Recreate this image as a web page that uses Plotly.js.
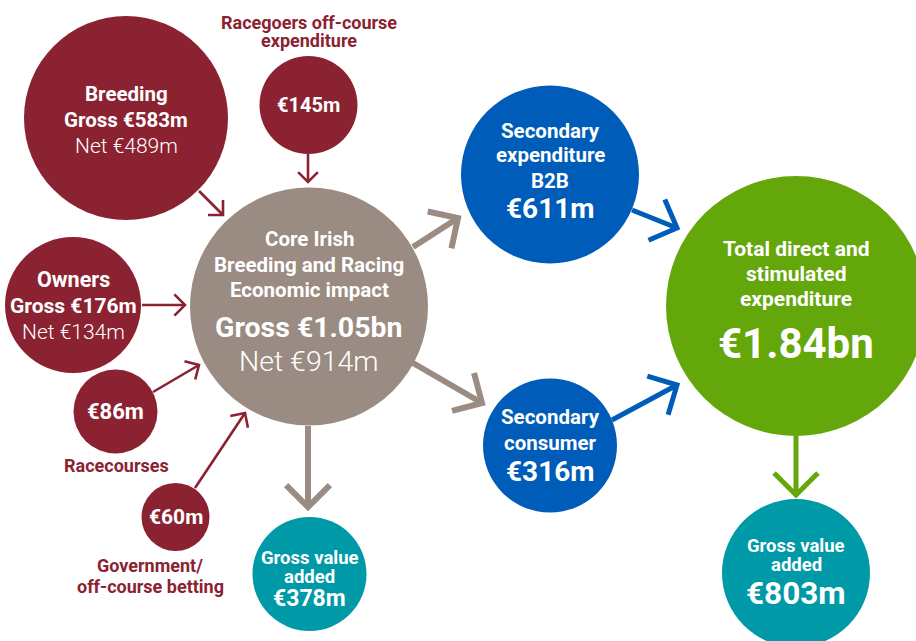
<!DOCTYPE html>
<html>
<head>
<meta charset="utf-8">
<script src="https://cdn.plot.ly/plotly-3.0.1.min.js"></script>
<style>html,body{margin:0;padding:0;background:#fff;}#chart{width:916px;height:641px;}</style>
</head>
<body>
<div id="chart"></div>
<script>
// ---- data ----
const nodeTitles = [
  ['Breeding'], [], ['Core Irish', 'Breeding and Racing', 'Economic impact'], ['Owners'], [], [],
  ['Gross value', 'added'], ['Secondary', 'expenditure', 'B2B'], ['Secondary', 'consumer'],
  ['Total direct and', 'stimulated', 'expenditure'], ['Gross value', 'added']
];
const grossLabels = ['Gross €583m', '€145m', 'Gross €1.05bn', 'Gross €176m', '€86m', '€60m', '€378m', '€611m', '€316m', '€1.84bn', '€803m'];
const netLabels = ['Net €489m', '', 'Net €914m', 'Net €134m', '', '', '', '', '', '', ''];
const outsideLabels = [[], ['Racegoers off-course', 'expenditure'], [], [], ['Racecourses'], ['Government/', 'off-course betting'], [], [], [], [], []];
const edgeFrom = [0, 1, 3, 4, 5, 2, 2, 2, 7, 8, 9];
const edgeTo   = [2, 2, 2, 2, 2, 6, 7, 8, 9, 9, 10];

// ---- layout / style (not data) ----
const C = {maroon: '#8B2232', gray: '#9A8C82', blue: '#005CB9', green: '#64A70B', teal: '#0099A7'};
const nodeColor = ['maroon','maroon','gray','maroon','maroon','maroon','teal','blue','blue','green','teal'];
const nodeCX = [126, 308.5, 309, 73, 115.5, 175.5, 309.5, 550, 550, 796, 796];
const nodeCY = [118, 105, 306.5, 305, 411.5, 517, 574, 174.5, 445.5, 306, 573];
const nodeR  = [102, 49, 119, 68, 42, 34, 57, 89, 67, 130, 74];
const lineBase = [
  [101, 127, 153], [112], [246, 272, 297, 338, 372], [287, 313, 339], [419], [524],
  [565, 584, 607], [138, 162, 188, 218], [424, 450, 481], [256, 281, 306, 358], [553, 572, 605]
];
const lineSize = [
  [20.5, 20.5, 21], [20], [20.5, 20.5, 20.5, 28.5, 28.5], [21.5, 21, 21], [22], [21],
  [18.5, 18.5, 23], [20.5, 20.5, 20.5, 28], [20.5, 20.5, 28], [21, 21, 21, 42], [18.5, 18.5, 31.5]
];
const outX = [0, 309, 0, 0, 116, 150, 0, 0, 0, 0, 0];
const outBase = [[], [29, 47], [], [], [472], [572, 593], [], [], [], [], []];
const outSize = 18;
// arrows: start, tip, head length, width, colour
const arrStart = [[199,191],[308,154],[142,305],[153,392],[195,488],[308,426],[413,247],[413,363],[632,210],[612,420],[796,436]];
const arrTip   = [[223,215],[308,182],[185,305],[199,365],[245,413],[308,507],[458,218],[482,403],[677,228],[677,385],[796,495]];
const arrHead  = [15,14,15,15,15,31,31,31,31,31,31];
const arrWidth = [2.6,2.6,2.6,2.6,2.6,6,6,6,5,5,5];
const arrColor = ['maroon','maroon','maroon','maroon','maroon','gray','gray','gray','blue','blue','green'];

const FONT = 'Roboto, "DejaVu Sans Condensed", sans-serif';
const shapes = [];
const annotations = [];

// circles
for (let i = 0; i < nodeCX.length; i++) {
  shapes.push({type: 'circle', xref: 'x', yref: 'y', x0: nodeCX[i] - nodeR[i], x1: nodeCX[i] + nodeR[i],
    y0: nodeCY[i] - nodeR[i], y1: nodeCY[i] + nodeR[i], fillcolor: C[nodeColor[i]], line: {width: 0}, layer: 'below'});
}
// arrows
for (let k = 0; k < edgeFrom.length; k++) {
  const [sx, sy] = arrStart[k], [tx, ty] = arrTip[k];
  const d = Math.hypot(tx - sx, ty - sy);
  const ux = (sx - tx) / d, uy = (sy - ty) / d;
  const L = arrHead[k], c = Math.SQRT1_2;
  const w1 = [tx + L * (ux * c - uy * c), ty + L * (ux * c + uy * c)];
  const w2 = [tx + L * (ux * c + uy * c), ty + L * (-ux * c + uy * c)];
  const col = C[arrColor[k]];
  shapes.push({type: 'path', xref: 'x', yref: 'y', path: `M${sx},${sy} L${tx},${ty}`, line: {color: col, width: arrWidth[k]}});
  shapes.push({type: 'path', xref: 'x', yref: 'y', path: `M${w1[0]},${w1[1]} L${tx},${ty} L${w2[0]},${w2[1]}`, line: {color: col, width: arrWidth[k]}});
}
// text in nodes
function addLine(text, x, base, size, weight, color) {
  annotations.push({x: x, y: base - 0.355 * size, xref: 'x', yref: 'y', text: text, showarrow: false, borderpad: 0,
    xanchor: 'center', yanchor: 'middle', font: {family: FONT, size: size, color: color, weight: weight}});
}
for (let i = 0; i < nodeCX.length; i++) {
  const lines = nodeTitles[i].concat([grossLabels[i]]).concat(netLabels[i] ? [netLabels[i]] : []);
  lines.forEach((t, j) => {
    const isNet = netLabels[i] && j === lines.length - 1;
    addLine(t, nodeCX[i], lineBase[i][j], lineSize[i][j], isNet ? 300 : 700, '#ffffff');
  });
  outsideLabels[i].forEach((t, j) => addLine(t, outX[i], outBase[i][j], outSize, 700, C.maroon));
}

const layout = {
  width: 916, height: 641, margin: {l: 0, r: 0, t: 0, b: 0},
  paper_bgcolor: '#ffffff', plot_bgcolor: '#ffffff', showlegend: false,
  xaxis: {range: [0, 916], visible: false, fixedrange: true},
  yaxis: {range: [641, 0], visible: false, fixedrange: true},
  shapes: shapes, annotations: annotations
};
Plotly.newPlot('chart', [{x: [], y: [], type: 'scatter', mode: 'markers', hoverinfo: 'skip'}], layout, {displayModeBar: false, staticPlot: true});
</script>
</body>
</html>
